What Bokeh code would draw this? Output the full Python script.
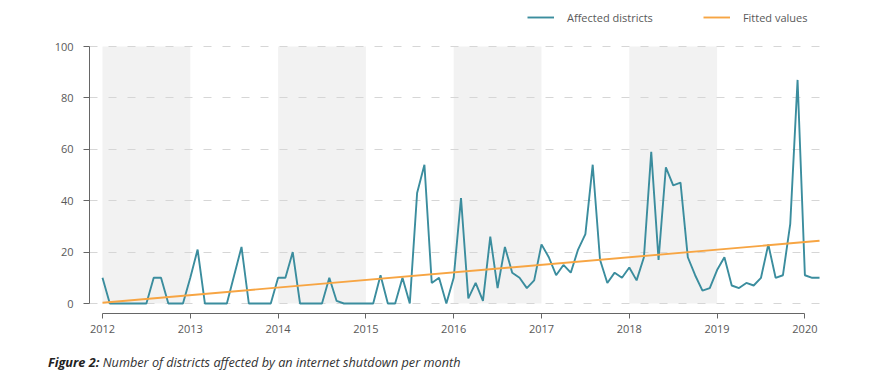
from bokeh.plotting import figure
from bokeh.models import (Range1d, FixedTicker, Legend, LegendItem, Div)
from bokeh.layouts import column
from bokeh.embed import file_html
from bokeh.resources import INLINE

# ---- data ----
start_year = 2012
affected = [10, 0, 0, 0, 0, 0, 0, 10, 10, 0, 0, 0,
            10, 21, 0, 0, 0, 0, 11, 22, 0, 0, 0, 0,
            10, 10, 20, 0, 0, 0, 0, 10, 1, 0, 0, 0,
            0, 0, 11, 0, 0, 10, 0, 43, 54, 8, 10, 0,
            10, 41, 2, 8, 1, 26, 6, 22, 12, 10, 6, 9,
            23, 18, 11, 15, 12, 21, 27, 54, 17, 8, 12, 10,
            14, 9, 18, 59, 17, 53, 46, 47, 18, 11, 5, 6,
            13, 18, 7, 6, 8, 7, 10, 23, 10, 11, 31, 87,
            11, 10, 10]
fitted_x = [2012.0, 2020 + 2 / 12]
fitted_y = [0.3, 24.4]
shaded_years = [2012, 2014, 2016, 2018]
x_ticks = [2012, 2013, 2014, 2015, 2016, 2017, 2018, 2019, 2020]
y_ticks = [0, 20, 40, 60, 80, 100]
caption_bold = "Figure 2:"
caption_text = "Number of districts affected by an internet shutdown per month"

months_x = [start_year + i / 12 for i in range(len(affected))]

FONT = "Open Sans"

p = figure(width=869, height=345, output_backend="svg", toolbar_location=None,
           x_range=Range1d(2011.852, 2020.212), y_range=Range1d(-3.89, 117.9),
           min_border_left=89, min_border_right=46, min_border_top=0,
           min_border_bottom=32)
p.outline_line_color = None
p.background_fill_color = "white"

# shaded bands
p.quad(left=shaded_years, right=[y + 1 for y in shaded_years],
       bottom=[y_ticks[0]] * len(shaded_years), top=[y_ticks[-1]] * len(shaded_years),
       fill_color="#f2f2f2", line_color=None, level="underlay")

# grid
p.xgrid.grid_line_color = None
p.ygrid.ticker = FixedTicker(ticks=y_ticks)
p.ygrid.grid_line_color = "#d6d6d6"
p.ygrid.grid_line_dash = "8 11"
p.ygrid.grid_line_width = 1
p.ygrid.bounds = (x_ticks[0], x_ticks[-1])

r_aff = p.line(months_x, affected, line_color="#3b8d9e", line_width=1.9)
r_fit = p.line(fitted_x, fitted_y, line_color="#f7a543", line_width=1.9)

# axes
for ax in (p.xaxis[0], p.yaxis[0]):
    ax.axis_line_color = "#666666"
    ax.axis_line_width = 1
    ax.major_tick_line_color = "#666666"
    ax.minor_tick_line_color = None
    ax.major_label_text_font = FONT
    ax.major_label_text_font_size = "11px"
    ax.major_label_text_color = "#595959"
    ax.major_tick_in = 0

p.xaxis.ticker = FixedTicker(ticks=x_ticks)
p.xaxis.bounds = (x_ticks[0], x_ticks[-1])
p.xaxis.major_tick_out = 5
p.xaxis.major_label_standoff = 6

p.yaxis.ticker = FixedTicker(ticks=y_ticks)
p.yaxis.bounds = (y_ticks[0], y_ticks[-1])
p.yaxis.major_tick_out = 6
p.yaxis.major_label_standoff = 10

# legend at the top of the (tall) frame
legend = Legend(items=[LegendItem(label="Affected districts", renderers=[r_aff]),
                       LegendItem(label="Fitted values", renderers=[r_fit])],
                orientation="horizontal", location=(438, 286),
                glyph_width=27, glyph_height=20, label_height=20,
                label_standoff=13, spacing=50,
                padding=0, margin=0, border_line_color=None,
                background_fill_alpha=0,
                label_text_font=FONT, label_text_font_size="11px",
                label_text_color="#595959")
p.add_layout(legend, "center")

caption = Div(
    text=f'<span style="font-weight:bold;font-style:italic;color:#222222">{caption_bold}</span> '
         f'<span style="font-style:italic;color:#333333">{caption_text}</span>',
    width=869, height=36, margin=0,
    styles={"font-family": FONT, "font-size": "12.7px", "padding-left": "48px",
            "padding-top": "9px", "line-height": "16px"})

layout = column(p, caption, spacing=0)

open("out.html", "w").write(file_html(layout, INLINE))
